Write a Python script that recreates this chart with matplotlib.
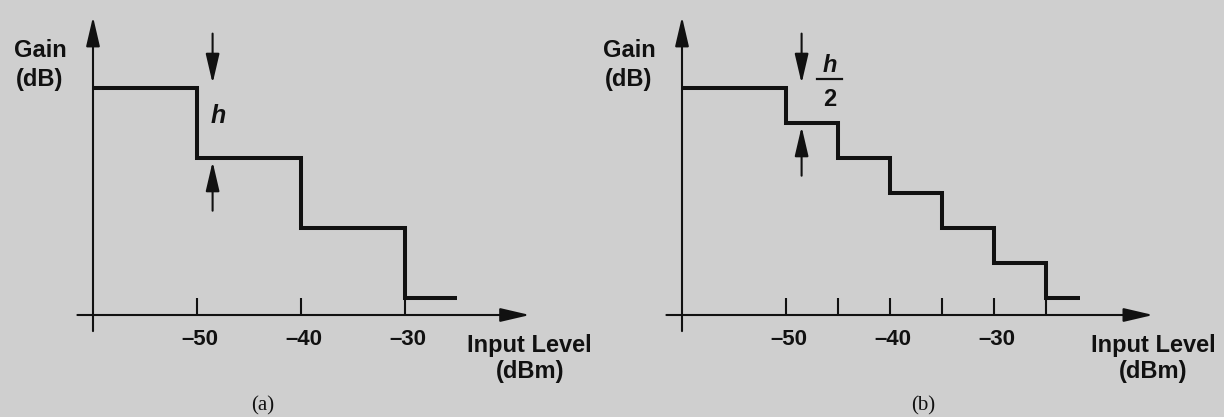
import matplotlib
matplotlib.use('Agg')
import matplotlib.pyplot as plt

# (a): gain steps of h, in units of h; edges in dBm
edges_a = [-60, -50, -40, -30, -25]
gain_a = [3.25, 2.25, 1.25, 0.25]
ticks_a = [-50, -40, -30]
labels_a = [-50, -40, -30]

# (b): gain steps of h/2
edges_b = [-60, -50, -45, -40, -35, -30, -25, -21.7]
gain_b = [3.25, 2.75, 2.25, 1.75, 1.25, 0.75, 0.25]
ticks_b = [-50, -45, -40, -35, -30, -25]
labels_b = [-50, -40, -30]

W, H = 1224, 417
BG = '#cfcfcf'
INK = '#111111'
PX_X = 10.4   # pixels per dBm
PX_Y = 70.0   # pixels per h
AXIS_Y = 315  # pixel row of the input-level axis
SANS = 'Liberation Sans'
SERIF = 'Liberation Serif'

fig = plt.figure(figsize=(W / 100, H / 100), dpi=100, facecolor=BG)


def make_axes(x0_px, xlim=(-66, -10), ylim=(-1.45, 4.45)):
    """Place an axes so that x=-60 dBm sits at pixel column x0_px."""
    left = x0_px + (xlim[0] + 60) * PX_X
    width = (xlim[1] - xlim[0]) * PX_X
    bottom = AXIS_Y - ylim[0] * PX_Y
    height = (ylim[1] - ylim[0]) * PX_Y
    ax = fig.add_axes([left / W, (H - bottom) / H, width / W, height / H])
    ax.set_xlim(xlim)
    ax.set_ylim(ylim)
    ax.axis('off')
    ax.set_facecolor(BG)
    return ax


def arrow(ax, tail, tip, lw=1.5):
    ax.annotate('', xy=tip, xytext=tail,
                arrowprops=dict(arrowstyle='-|>,head_length=1.8,head_width=0.42',
                                color=INK, lw=lw, shrinkA=0, shrinkB=0,
                                mutation_scale=10))


def draw_panel(ax, edges, gains, ticks, labels, x_end, tag, tag_x):
    # axes with arrow heads
    arrow(ax, (-60, -0.23), (-60, 4.26))
    arrow(ax, (-61.5, 0), (x_end, 0))
    for t in ticks:
        ax.plot([t, t], [0, 0.24], color=INK, lw=1.5, solid_capstyle='butt')
    for t in labels:
        ax.text(t + 0.3, -0.43, '\u2013%d' % abs(t), ha='center', va='baseline',
                fontsize=16, fontweight='bold', family=SANS, color=INK)

    # gain staircase
    ax.stairs(gains, edges, baseline=None, color=INK, lw=2.9, joinstyle='miter')

    # axis titles
    ax.text(-65.1, 3.686, 'Gain', ha='center', va='baseline', fontsize=17,
            fontweight='bold', family=SANS, color=INK)
    ax.text(-65.1, 3.271, '(dB)', ha='center', va='baseline', fontsize=17,
            fontweight='bold', family=SANS, color=INK)
    ax.text(x_end, -0.529, 'Input Level', ha='center', va='baseline', fontsize=17,
            fontweight='bold', family=SANS, color=INK)
    ax.text(x_end, -0.9, '(dBm)', ha='center', va='baseline', fontsize=17,
            fontweight='bold', family=SANS, color=INK)

    # step-size markers around the first drop
    x_mark = -48.5
    arrow(ax, (x_mark, gains[0] + 0.77), (x_mark, gains[0] + 0.06))
    arrow(ax, (x_mark, gains[1] - 0.76), (x_mark, gains[1] - 0.06))

    ax.text(tag_x, -1.37, tag, ha='center', va='baseline', fontsize=15,
            family=SERIF, color=INK)


ax_a = make_axes(93)
draw_panel(ax_a, edges_a, gain_a, ticks_a, labels_a, -18.0, '(a)', -43.7)
ax_a.text(-48.0, 2.743, 'h', ha='center', va='baseline', fontsize=18,
          fontweight='bold', fontstyle='italic', family=SANS, color=INK)

ax_b = make_axes(682)
draw_panel(ax_b, edges_b, gain_b, ticks_b, labels_b, -14.7, '(b)', -36.8)
ax_b.text(-45.8, 3.471, 'h', ha='center', va='baseline', fontsize=17,
          fontweight='bold', fontstyle='italic', family=SANS, color=INK)
ax_b.plot([-47.0, -44.6], [3.371, 3.371], color=INK, lw=1.6)
ax_b.text(-45.8, 2.986, '2', ha='center', va='baseline', fontsize=17,
          fontweight='bold', family=SANS, color=INK)

fig.savefig('out.png', dpi=100, facecolor=BG)
